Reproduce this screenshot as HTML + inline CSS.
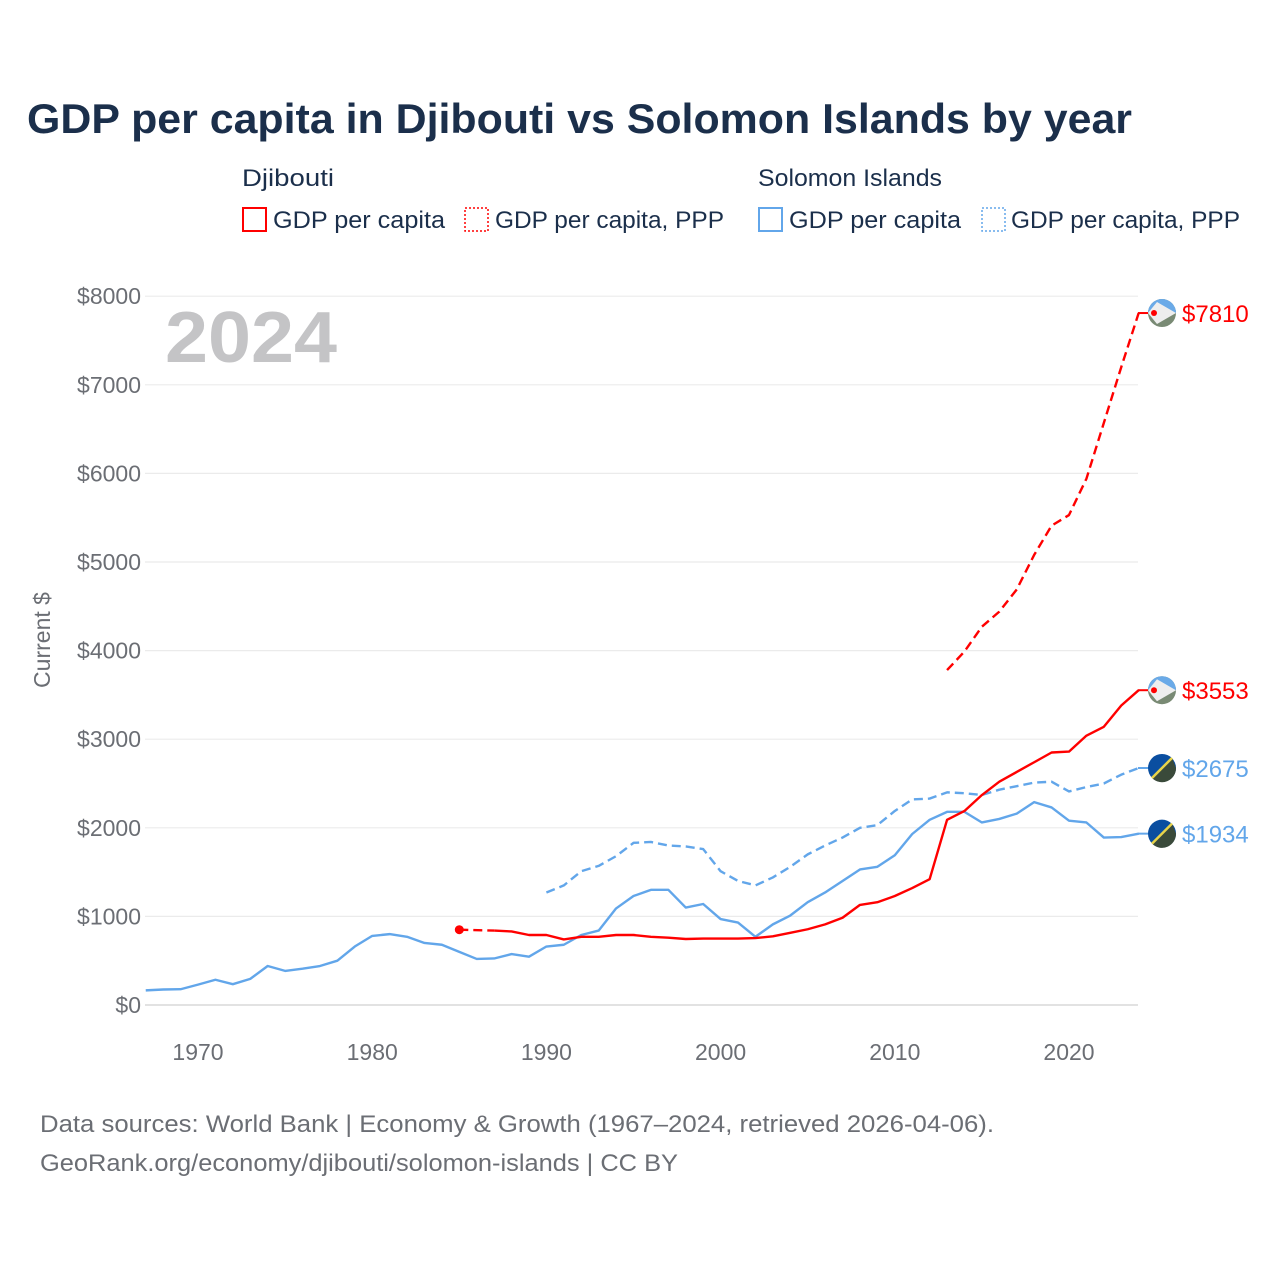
<!DOCTYPE html>
<html><head><meta charset="utf-8"><style>
html,body{margin:0;padding:0;background:#fff;}
svg{display:block;font-family:"Liberation Sans",sans-serif;}
</style></head><body>
<svg id="chart" width="1280" height="1280" viewBox="0 0 1280 1280">
<text x="27" y="133" font-size="42" font-weight="bold" fill="#1b2f4b" textLength="1105" lengthAdjust="spacingAndGlyphs">GDP per capita in Djibouti vs Solomon Islands by year</text>
<g font-size="24" fill="#1b2f4b">
<text x="242" y="186" textLength="92" lengthAdjust="spacingAndGlyphs">Djibouti</text>
<text x="758" y="186" textLength="184" lengthAdjust="spacingAndGlyphs">Solomon Islands</text>
<g><rect x="243" y="208" width="23" height="23" fill="none" stroke="#ff0000" stroke-width="2"/><text x="273" y="228" textLength="172" lengthAdjust="spacingAndGlyphs">GDP per capita</text></g>
<g><rect x="465" y="208" width="23" height="23" fill="none" stroke="#ff0000" stroke-width="1.5" stroke-dasharray="2 2"/><text x="495" y="228" textLength="229" lengthAdjust="spacingAndGlyphs">GDP per capita, PPP</text></g>
<g><rect x="759" y="208" width="23" height="23" fill="none" stroke="#62a6ea" stroke-width="2"/><text x="789" y="228" textLength="172" lengthAdjust="spacingAndGlyphs">GDP per capita</text></g>
<g><rect x="982" y="208" width="23" height="23" fill="none" stroke="#62a6ea" stroke-width="1.5" stroke-dasharray="2 2"/><text x="1011" y="228" textLength="229" lengthAdjust="spacingAndGlyphs">GDP per capita, PPP</text></g>
</g>
<text x="165" y="362" font-size="72" font-weight="bold" fill="#c4c4c6" textLength="172" lengthAdjust="spacingAndGlyphs">2024</text>
<text transform="translate(50,640) rotate(-90)" text-anchor="middle" font-size="23" fill="#6b6e74">Current $</text>
<g id="grid"></g><g id="series"></g><g id="labels"></g>
<text x="40" y="1132" font-size="24" fill="#6b6e74" textLength="954" lengthAdjust="spacingAndGlyphs">Data sources: World Bank | Economy &amp; Growth (1967–2024, retrieved 2026-04-06).</text>
<text x="40" y="1171" font-size="24" fill="#6b6e74" textLength="638" lengthAdjust="spacingAndGlyphs">GeoRank.org/economy/djibouti/solomon-islands | CC BY</text>
</svg>
<script>
const yTicks=[0,1000,2000,3000,4000,5000,6000,7000,8000];
const xTicks=[1970,1980,1990,2000,2010,2020];
const solYears0=1967;
const solGdp=[165,175,178,230,285,235,295,440,385,410,440,500,660,780,800,770,700,680,600,520,525,575,545,660,680,790,840,1090,1230,1300,1300,1100,1140,970,930,770,910,1010,1160,1270,1400,1530,1560,1690,1930,2090,2180,2180,2060,2100,2160,2290,2230,2080,2060,1890,1895,1934];
const solPppStart=1990;
const solPpp=[1270,1350,1510,1570,1680,1830,1840,1800,1790,1760,1510,1400,1350,1440,1560,1700,1800,1890,2000,2030,2190,2320,2330,2400,2390,2370,2430,2470,2510,2520,2410,2460,2500,2600,2675];
const djiStart=1985;
const djiGdp=[850,null,840,830,790,790,740,770,770,790,790,770,760,745,750,750,750,755,775,815,855,910,985,1130,1160,1230,1320,1420,2090,2190,2370,2520,2630,2740,2850,2860,3040,3140,3380,3553];
const djiPppStart=2013;
const djiPpp=[3780,3990,4270,4440,4690,5080,5410,5530,5940,6570,7200,7810];
const labelVals=[7810,3553,2675,1934];

const NS="http://www.w3.org/2000/svg";
const X=y=>198+(y-1970)*17.42;
const Y=v=>1005-v*0.0886;
function mk(t,a,p){const e=document.createElementNS(NS,t);for(const k in a)e.setAttribute(k,a[k]);p.appendChild(e);return e;}
const grid=document.getElementById('grid'),ser=document.getElementById('series'),lab=document.getElementById('labels');
yTicks.forEach(v=>{
 const l=mk('line',{x1:145,x2:1138,y1:Y(v),y2:Y(v),stroke:v===0?'#e2e2e2':'#ebebeb','stroke-width':v===0?2:1.2},grid);
 
 
 const t=mk('text',{x:141,y:Y(v)+8,'text-anchor':'end','font-size':23,fill:'#6b6e74'},grid);
 t.textContent='$'+v;
 
 
});
xTicks.forEach(y=>{
 const t=mk('text',{x:X(y),y:1060,'text-anchor':'middle','font-size':23,fill:'#6b6e74'},grid);
 t.textContent=y;
 
 
});
function line(start,vals,color,dash,name){
 let d='';let prev=null;let gapd='';
 vals.forEach((v,i)=>{
  if(v==null)return;
  const px=X(start+i),py=Y(v);
  if(prev&&prev.i===i-1)d+='L'+px+' '+py;
  else{ if(prev)gapd+='M'+prev.x+' '+prev.y+'L'+px+' '+py; d+='M'+px+' '+py;}
  prev={i,x:px,y:py};
 });
 const p=mk('path',{d,fill:'none',stroke:color,'stroke-width':2.4,'stroke-linejoin':'round'},ser);
 if(dash)p.setAttribute('stroke-dasharray','9 5');
 
 
 if(gapd){const g=mk('path',{d:gapd,fill:'none',stroke:color,'stroke-width':2.4,'stroke-dasharray':'9 5'},ser);
  
  }
}
line(solYears0,solGdp,'#62a6ea',false,'line-solomon-gdp');
line(solPppStart,solPpp,'#62a6ea',true,'line-solomon-ppp');
line(djiStart,djiGdp,'#ff0000',false,'line-djibouti-gdp');
line(djiPppStart,djiPpp,'#ff0000',true,'line-djibouti-ppp');
const dot=mk('circle',{cx:X(djiStart),cy:Y(djiGdp[0]),r:4.5,fill:'#ff0000'},ser);


const cols=['#ff0000','#ff0000','#62a6ea','#62a6ea'];
const isDji=[true,true,false,false];
labelVals.forEach((v,i)=>{
 const cy=Y(v),cx=1162;
 const g=mk('g',{},lab);
 
 
 mk('line',{x1:1138,x2:1150,y1:cy,y2:cy,stroke:cols[i],'stroke-width':2},g);
 if(isDji[i]){
  mk('circle',{cx,cy,r:14,fill:'#798a74'},g);
  mk('path',{d:`M${cx-14} ${cy}A14 14 0 0 1 ${cx+14} ${cy}Z`,fill:'#6aaae8'},g);
  mk('path',{d:`M${cx-14} ${cy}L${cx-5} ${cy-11}L${cx+14} ${cy}L${cx-5} ${cy+11}Z`,fill:'#eee'},g);
  mk('circle',{cx:cx-8,cy,r:3,fill:'#ff0000'},g);
 }else{
  mk('circle',{cx,cy,r:14,fill:'#0a4ea0'},g);
  mk('path',{d:`M${cx+10} ${cy-10}L${cx+14} ${cy}A14 14 0 0 1 ${cx-10} ${cy+10}Z`,fill:'#3a4a3a'},g);
  mk('line',{x1:cx+10,y1:cy-10,x2:cx-10,y2:cy+10,stroke:'#e8d44a','stroke-width':2.5},g);
 }
 const t=mk('text',{x:1182,y:cy+9,'font-size':24,fill:cols[i]},lab);
 t.textContent='$'+v;
 
 
});
</script>
</body></html>
